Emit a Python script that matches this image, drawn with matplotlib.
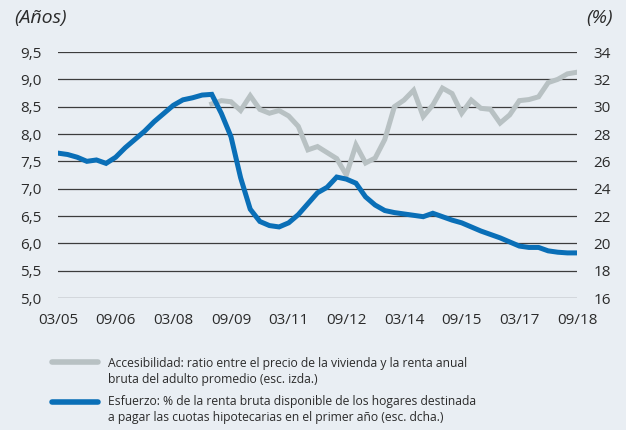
import numpy as np
import matplotlib
matplotlib.use('Agg')
import matplotlib.pyplot as plt
import matplotlib.font_manager as fm
from matplotlib.lines import Line2D

# quarterly data, 03/05 .. 09/18
quarters = ['%02d/%02d' % (m, y) for y in range(5, 19) for m in (3, 6, 9, 12)][:55]
tick_labels = ['03/05', '09/06', '03/08', '09/09', '03/11', '09/12',
               '03/14', '09/15', '03/17', '09/18']

# Esfuerzo (% , right axis) - whole period
esfuerzo = [26.6, 26.5, 26.3, 26.0, 26.1, 25.85, 26.3, 27.0, 27.6, 28.2,
            28.9, 29.5, 30.1, 30.5, 30.65, 30.85, 30.9, 29.5, 27.8, 24.8,
            22.5, 21.6, 21.3, 21.2, 21.5, 22.1, 22.9, 23.7, 24.1, 24.85,
            24.7, 24.4, 23.4, 22.8, 22.4, 22.25, 22.15, 22.05, 21.95, 22.2,
            21.95, 21.7, 21.5, 21.2, 20.9, 20.65, 20.4, 20.1, 19.8, 19.7,
            19.7, 19.45, 19.35, 19.3, 19.3]

# Accesibilidad (years, left axis) - starts 03/09
acc_start = 16
accesibilidad = [8.55, 8.61, 8.59, 8.43, 8.70, 8.45, 8.38, 8.43, 8.33, 8.14,
                 7.71, 7.77, 7.66, 7.55, 7.25, 7.80, 7.47, 7.56, 7.90, 8.50,
                 8.62, 8.80, 8.32, 8.53, 8.84, 8.74, 8.38, 8.62, 8.47, 8.45,
                 8.20, 8.35, 8.61, 8.63, 8.68, 8.94, 9.00, 9.10, 9.13]

left_ticks = [5.0, 5.5, 6.0, 6.5, 7.0, 7.5, 8.0, 8.5, 9.0, 9.5]
right_ticks = [16, 18, 20, 22, 24, 26, 28, 30, 32, 34]

names = {f.name for f in fm.fontManager.ttflist}
base_font = 'Open Sans' if 'Open Sans' in names else 'DejaVu Sans'
narrow_font = 'Liberation Sans Narrow' if 'Liberation Sans Narrow' in names else base_font

BG = '#e9eef3'
BLUE = '#0a6fb7'
GREY = '#b8c1c3'
TXT = '#2b2b2b'

plt.rcParams['font.family'] = [base_font, 'DejaVu Sans']

fig = plt.figure(figsize=(6.26, 4.30), dpi=100, facecolor=BG)
ax = fig.add_axes([58 / 626, 1 - 298 / 430, (577 - 58) / 626, (298 - 52) / 430])
ax.set_facecolor(BG)
ax2 = ax.twinx()
ax2.patch.set_visible(False)

x = np.arange(len(quarters))
x_acc = x[acc_start:acc_start + len(accesibilidad)]

ax.plot(x_acc, accesibilidad, color=GREY, lw=3.6, solid_joinstyle='miter', zorder=3)
ax2.plot(x, esfuerzo, color=BLUE, lw=3.6, solid_joinstyle='miter', zorder=3)

ax.set_xlim(0, len(quarters) - 1)
ax.set_ylim(5.0, 9.5)
ax2.set_ylim(16, 34)

ax.set_xticks([quarters.index(t) for t in tick_labels])
ax.set_xticklabels(tick_labels)
ax.set_yticks(left_ticks)
ax.set_yticklabels([('%.1f' % v).replace('.', ',') for v in left_ticks])
ax2.set_yticks(right_ticks)
ax2.set_yticklabels([str(v) for v in right_ticks])

ax.grid(axis='y', color='#3c3c3c', lw=0.9, zorder=1)
ax.grid(axis='x', visible=False)
for a in (ax, ax2):
    for s in a.spines.values():
        s.set_visible(False)
ax.tick_params(axis='both', length=0, labelsize=11, colors=TXT)
ax.tick_params(axis='y', pad=12)
ax.tick_params(axis='x', pad=11)
ax2.tick_params(axis='y', length=0, labelsize=11, colors=TXT, pad=12)

# axis titles
fig.text(14 / 626, 1 - 18 / 430, '(Años)', ha='left', va='center', style='italic',
         fontsize=14, color=TXT)
fig.text(613 / 626, 1 - 18 / 430, '(%)', ha='right', va='center', style='italic',
         fontsize=14, color=TXT)

# legend
W, H = 626, 430
fig.add_artist(Line2D([52 / W, 98 / W], [1 - 362 / H, 1 - 362 / H], color=GREY, lw=4,
                      solid_capstyle='round', transform=fig.transFigure))
fig.add_artist(Line2D([52 / W, 98 / W], [1 - 402 / H, 1 - 402 / H], color=BLUE, lw=4,
                      solid_capstyle='round', transform=fig.transFigure))
fig.text(108 / W, 1 - 371.5 / H,
         'Accesibilidad: ratio entre el precio de la vivienda y la renta anual\n'
         'bruta del adulto promedio (esc. izda.)',
         ha='left', va='center', fontsize=8.7, color=TXT, family=narrow_font,
         linespacing=1.32)
fig.text(108 / W, 1 - 409.5 / H,
         'Esfuerzo: % de la renta bruta disponible de los hogares destinada\n'
         'a pagar las cuotas hipotecarias en el primer año (esc. dcha.)',
         ha='left', va='center', fontsize=8.7, color=TXT, family=narrow_font,
         linespacing=1.32)

fig.savefig('out.png', dpi=100, facecolor=BG)
